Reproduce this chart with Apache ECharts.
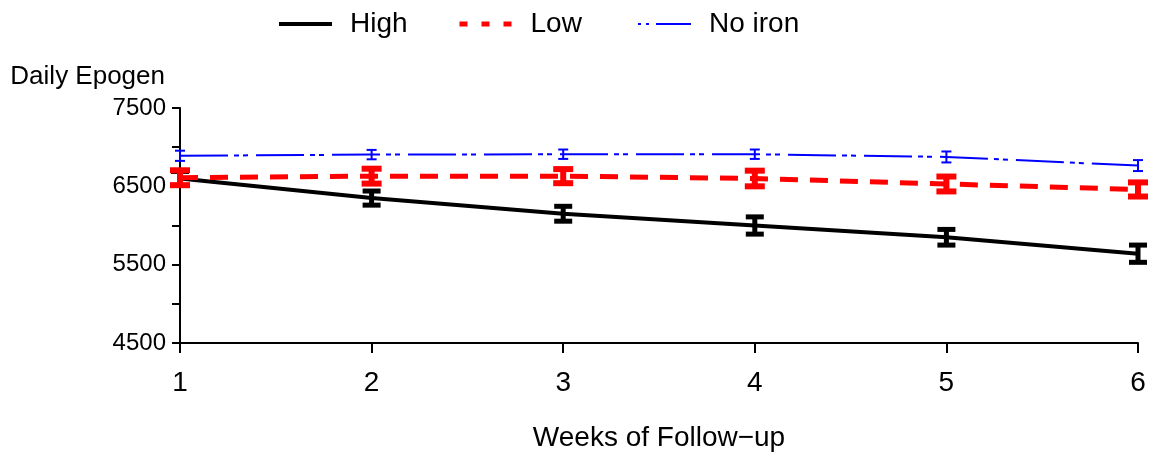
<!DOCTYPE html>
<html>
<head>
<meta charset="utf-8">
<script src="https://cdn.jsdelivr.net/npm/echarts@6/dist/echarts.min.js"></script>
<style>
html,body{margin:0;padding:0;background:#fff;}
#chart{width:1161px;height:458px;}
</style>
</head>
<body>
<div id="chart"></div>
<script>
// ---- data ----
var weeks = [1, 2, 3, 4, 5, 6];
var highMean = [6600, 6350, 6150, 6000, 5850, 5640];
var highErr = [90, 90, 95, 110, 100, 110];
var lowMean = [6610, 6630, 6630, 6600, 6530, 6460];
var lowErr = [95, 95, 90, 100, 95, 90];
var noIronMean = [6890, 6905, 6910, 6910, 6875, 6765];
var noIronErr = [65, 60, 60, 60, 70, 70];
var yTicks = [4500, 5500, 6500, 7500];

var FONT = 'Liberation Sans, Arial, sans-serif';

function pairs(xs, ys) {
  return xs.map(function (x, i) { return [x, ys[i]]; });
}
function errData(xs, ys, es) {
  return xs.map(function (x, i) { return [x, ys[i], es[i]]; });
}
function errSeries(name, xs, ys, es, color, capW, lw, z) {
  return {
    name: name,
    type: 'custom',
    z: z,
    silent: true,
    data: errData(xs, ys, es),
    renderItem: function (params, api) {
      var x = api.value(0), y = api.value(1), e = api.value(2);
      var top = api.coord([x, y + e]);
      var bot = api.coord([x, y - e]);
      var half = capW / 2;
      var st = { stroke: color, lineWidth: lw, fill: null };
      return {
        type: 'group',
        children: [
          { type: 'line', shape: { x1: top[0], y1: top[1], x2: bot[0], y2: bot[1] }, style: st },
          { type: 'line', shape: { x1: top[0] - half, y1: top[1], x2: top[0] + half, y2: top[1] }, style: st },
          { type: 'line', shape: { x1: bot[0] - half, y1: bot[1], x2: bot[0] + half, y2: bot[1] }, style: st }
        ]
      };
    }
  };
}

var chart = echarts.init(document.getElementById('chart'));
var legendText = { fontFamily: FONT, fontSize: 28, color: '#000', padding: [0, 0, 0, 13] };
var legendBase = { top: 10, padding: 0, itemWidth: 53, itemHeight: 20, textStyle: legendText,
  itemStyle: { opacity: 0 }, selectedMode: false };
chart.setOption({
  animation: false,
  backgroundColor: '#fff',
  legend: [
    Object.assign({}, legendBase, { data: ['High'], left: 277, lineStyle: { width: 4, type: 'solid' } }),
    Object.assign({}, legendBase, { data: ['Low'], left: 457, lineStyle: { width: 5, type: [8, 14] } }),
    Object.assign({}, legendBase, { data: ['No iron'], left: 637, lineStyle: { width: 2, type: [3, 5, 3, 7, 35, 100] } })
  ],
  grid: { left: 180, right: 23, top: 108, bottom: 115, containLabel: false },
  xAxis: {
    type: 'value', min: 1, max: 6, interval: 1,
    name: 'Weeks of Follow\u2212up', nameLocation: 'middle', nameGap: 81,
    nameTextStyle: { fontFamily: FONT, fontSize: 28, color: '#000' },
    axisLine: { onZero: false, lineStyle: { color: '#000', width: 2 } },
    axisTick: { show: true, length: 10, lineStyle: { color: '#000', width: 2 } },
    axisLabel: { fontFamily: FONT, fontSize: 28, color: '#000', margin: 26 },
    splitLine: { show: false }
  },
  yAxis: {
    type: 'value', min: 4500, max: 7500, interval: 1000,
    name: 'Daily Epogen', nameLocation: 'end', nameGap: 18,
    nameTextStyle: { fontFamily: FONT, fontSize: 26, color: '#000', align: 'right', padding: [0, 15, 0, 0] },
    axisLine: { show: true, lineStyle: { color: '#000', width: 2 } },
    axisTick: { show: true, length: 8, lineStyle: { color: '#000', width: 2 } },
    minorTick: { show: true, splitNumber: 2, length: 8, lineStyle: { color: '#000', width: 2 } },
    axisLabel: { fontFamily: FONT, fontSize: 24, color: '#000', margin: 14,
      formatter: function (v) { return yTicks.indexOf(v) >= 0 ? String(v) : ''; } },
    splitLine: { show: false }
  },
  series: [
    { name: 'High', type: 'line', z: 3, symbol: 'none', data: pairs(weeks, highMean),
      lineStyle: { color: '#000', width: 4, type: 'solid' }, itemStyle: { color: '#000' } },
    errSeries('HighErr', weeks, highMean, highErr, '#000', 18, 5, 3),
    { name: 'Low', type: 'line', z: 4, symbol: 'none', data: pairs(weeks, lowMean),
      lineStyle: { color: '#ff0000', width: 5, type: [18, 12] }, itemStyle: { color: '#ff0000' } },
    errSeries('LowErr', weeks, lowMean, lowErr, '#ff0000', 20, 6, 4),
    { name: 'No iron', type: 'line', z: 5, symbol: 'none', data: pairs(weeks, noIronMean),
      lineStyle: { color: '#0000ff', width: 2, type: [48, 6, 5, 4, 5, 8] }, itemStyle: { color: '#0000ff' } },
    errSeries('NoIronErr', weeks, noIronMean, noIronErr, '#0000ff', 10, 2, 5)
  ]
});
</script>
</body>
</html>
